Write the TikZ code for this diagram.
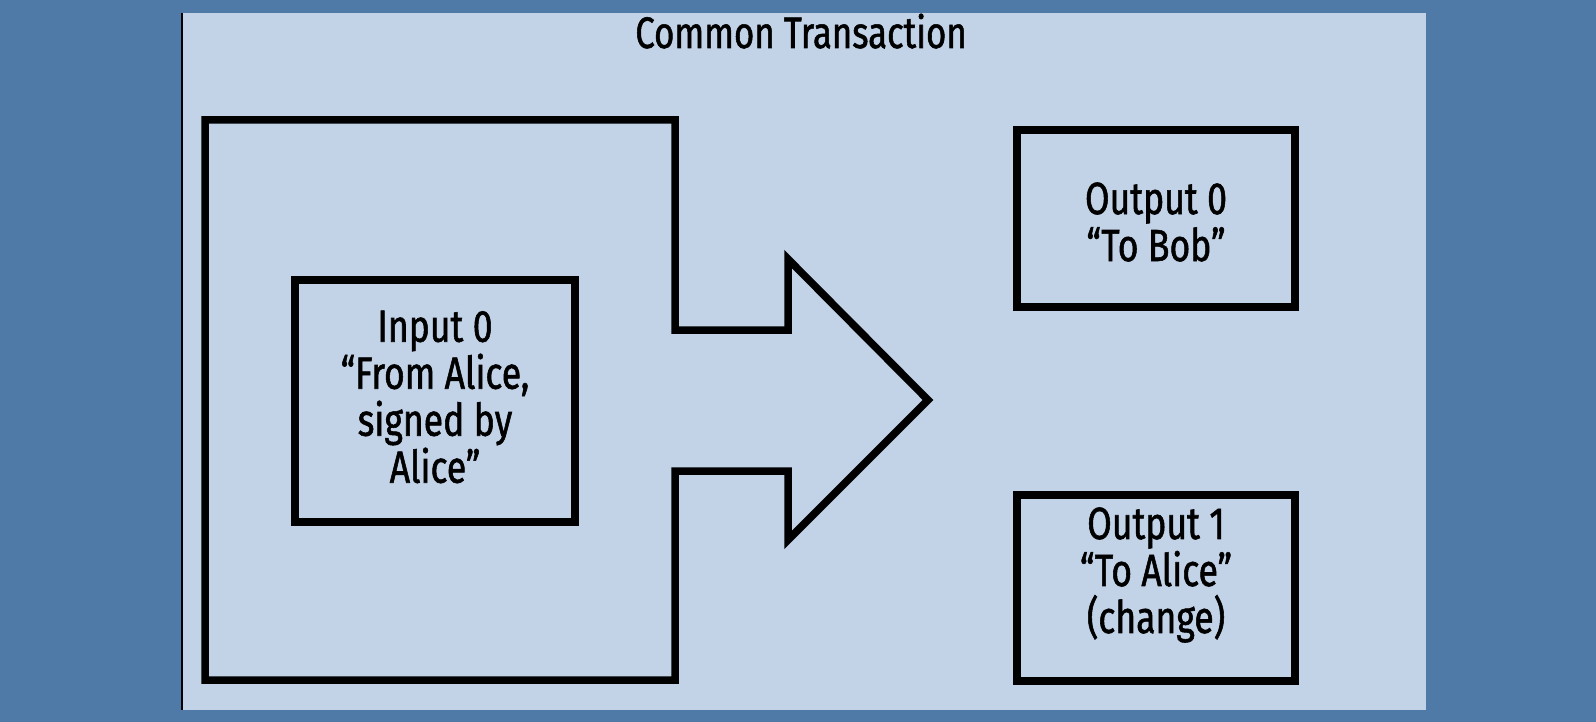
\documentclass[tikz,border=0pt]{standalone}
\usepackage{fontspec}
\setmainfont{Fira Sans}[FakeStretch=0.79, FakeBold=1.2]
\definecolor{bgblue}{HTML}{4F79A7}
\definecolor{panelblue}{HTML}{C2D2E7}
\begin{document}
\begin{tikzpicture}[x=1pt,y=-1pt,
  thickline/.style={draw=black, line width=7.5pt, line join=miter},
  boxnode/.style={thickline, inner sep=0pt, outer sep=0pt},
  lbl/.style={font=\fontsize{45}{47}\selectfont, align=center, inner sep=0pt},
  ttl/.style={font=\fontsize{44}{47}\selectfont, inner sep=0pt}]
\fill[bgblue] (0,0) rectangle (1596,722);
\useasboundingbox (0,0) rectangle (1596,722);
\fill[panelblue] (182,13) rectangle (1426,710);
\draw[line width=2.5pt] (182,13) -- (182,710);
\node[ttl, anchor=base] (title) at (801,48) {Common Transaction};
% big arrow shape
\draw[thickline] (205,120) -- (675,120) -- (675,330) -- (788,330) -- (788,259)
  -- (928,400) -- (788,540) -- (788,471) -- (675,471) -- (675,680) -- (205,680) -- cycle;
% input box
\node[boxnode, minimum width=280pt, minimum height=242pt] (inbox) at (435,401) {};
\node[lbl] (intext) at (435,397) {Input 0\\“From Alice,\\signed by\\Alice”};
% output boxes
\node[boxnode, minimum width=278pt, minimum height=177pt] (out0) at (1156,218.5) {};
\node[lbl] (out0text) at (1156,222) {Output 0\\“To Bob”};
\node[boxnode, minimum width=278pt, minimum height=186pt] (out1) at (1156,588) {};
\node[lbl] (out1text) at (1156,575) {Output 1\\“To Alice”\\(change)};
\end{tikzpicture}
\end{document}
